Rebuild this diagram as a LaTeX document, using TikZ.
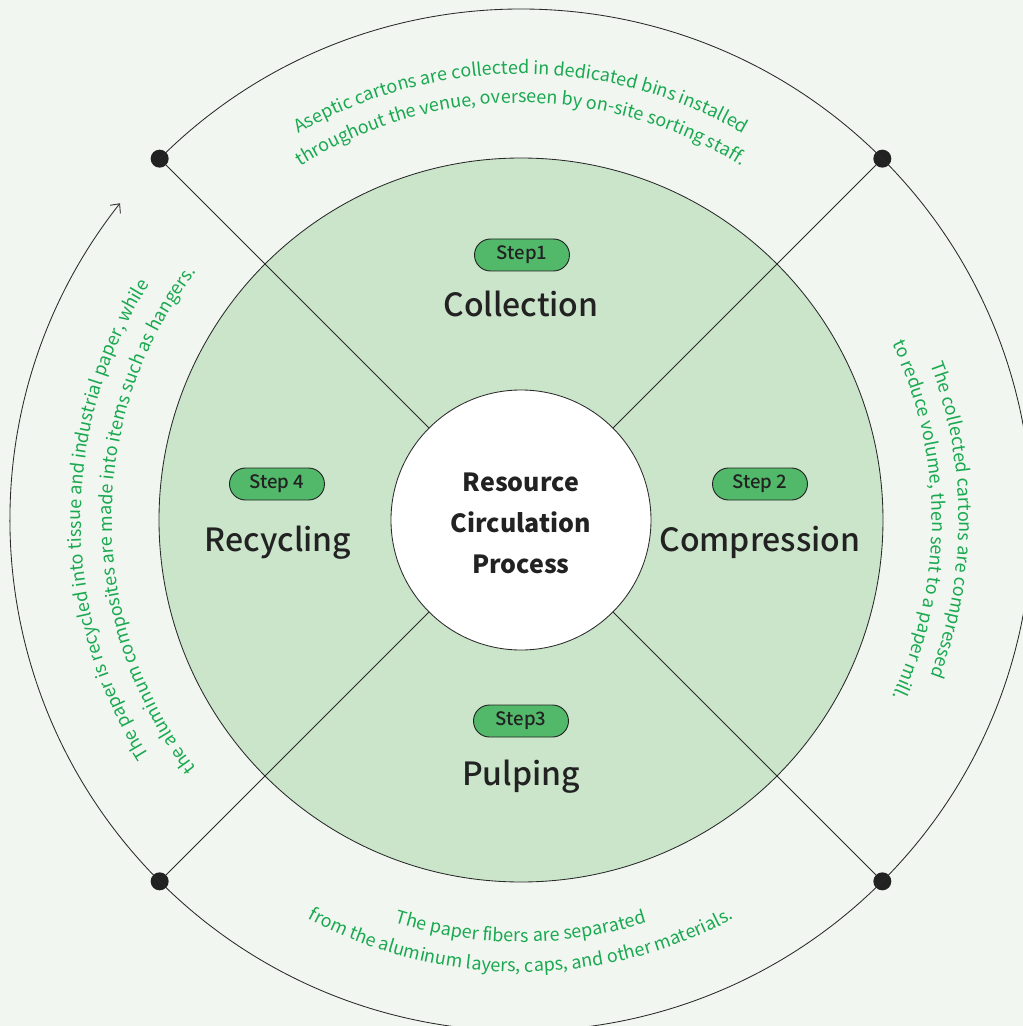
\documentclass[tikz,border=0pt]{standalone}
\usepackage{fontspec}
\setmainfont{Noto Sans CJK SC}
\newfontfamily\medfont{Noto Sans CJK SC Medium}
\usetikzlibrary{decorations.text,arrows.meta}
\definecolor{bg}{HTML}{F1F7F0}
\definecolor{disc}{HTML}{CBE5CB}
\definecolor{pill}{HTML}{52B86A}
\definecolor{gtext}{HTML}{1AA850}
\definecolor{ink}{HTML}{222222}
\definecolor{linec}{HTML}{2A2A2A}
\begin{document}
\begin{tikzpicture}[x=1pt,y=1pt,
  thinline/.style={draw=linec, line width=0.85pt},
  dotnode/.style={circle, fill=ink, inner sep=0pt, minimum size=18pt},
  pillnode/.style={draw=ink, line width=0.9pt, fill=pill, rounded corners=16pt,
    minimum width=95pt, minimum height=32pt, inner sep=0pt,
    font=\medfont\fontsize{18.5}{18.5}\selectfont, text=ink},
  stagelabel/.style={font=\medfont\fontsize{32}{32}\selectfont, text=ink, anchor=base, inner sep=0pt},
  coretext/.style={font=\bfseries\fontsize{25}{25}\selectfont, text=ink, anchor=base, inner sep=0pt},
  curvetext/.style={decorate, decoration={text along path, text align=center, text color=gtext}},
]
\useasboundingbox (-521,-506) rectangle (502,520);
\fill[bg] (-521,-506) rectangle (502,520);

% green disc and core
\node[circle, fill=disc, draw=linec, line width=0.85pt, minimum size=724pt, inner sep=0pt] (disc) at (0,0) {};
\node[circle, fill=white, draw=linec, line width=0.85pt, minimum size=260pt, inner sep=0pt] (core) at (0,0) {};

% dots
\node[dotnode] (d1) at (135:511) {};
\node[dotnode] (d2) at (45:511) {};
\node[dotnode] (d3) at (-45:511) {};
\node[dotnode] (d4) at (-135:511) {};

% diagonals
\draw[thinline] (d1) -- (core);
\draw[thinline] (d2) -- (core);
\draw[thinline] (d3) -- (core);
\draw[thinline] (d4) -- (core);

% outer arcs
\draw[thinline] (d1.center) arc[start angle=135, end angle=-135, radius=511];
\draw[thinline, -{Straight Barb[length=7pt, width=13pt]}] (d4.center)
  arc[start angle=225, end angle=141.7, radius=511] coordinate (arrowend);

% core text
\node[coretext] (t1) at (0,29) {Resource};
\node[coretext] (t2) at (0,-12) {Circulation};
\node[coretext] (t3) at (0,-53) {Process};

% steps
\node[pillnode] (s1) at (1,265) {Step1};
\node[stagelabel] (l1) at (0,203) {Collection};
\node[pillnode] (s2) at (239,36) {Step 2};
\node[stagelabel] (l2) at (239,-31) {Compression};
\node[pillnode] (s3) at (0,-201) {Step3};
\node[stagelabel] (l3) at (0,-265) {Pulping};
\node[pillnode] (s4) at (-244,36) {Step 4};
\node[stagelabel] (l4) at (-243,-31) {Recycling};

% curved texts
\path[curvetext, decoration={text={|\fontsize{18}{18}\selectfont|Aseptic cartons are collected in dedicated bins installed}}]
  (140:446) arc[start angle=140, end angle=40, radius=446];
\path[curvetext, decoration={text={|\fontsize{18}{18}\selectfont|throughout the venue, overseen by on-site sorting staff.}}]
  (140:417) arc[start angle=140, end angle=40, radius=417];

\path[curvetext, decoration={text={|\fontsize{18}{18}\selectfont|The collected cartons are compressed}}]
  (50:438) arc[start angle=50, end angle=-50, radius=438];
\path[curvetext, decoration={text={|\fontsize{18}{18}\selectfont|to reduce volume, then sent to a paper mill.}}]
  (50:411) arc[start angle=50, end angle=-50, radius=411];

\path[curvetext, decoration={text={|\fontsize{18}{18}\selectfont|The paper fibers are separated}}]
  (220:422) arc[start angle=220, end angle=320, radius=422];
\path[curvetext, decoration={text={|\fontsize{18}{18}\selectfont|from the aluminum layers, caps, and other materials.}}]
  (220:452) arc[start angle=220, end angle=320, radius=452];

\path[curvetext, decoration={text={|\fontsize{18}{18}\selectfont|The paper is recycled into tissue and industrial paper, while}}]
  (230:440) arc[start angle=230, end angle=130, radius=440];
\path[curvetext, decoration={text={|\fontsize{18}{18}\selectfont|the aluminum composites are made into items such as hangers.}}]
  (230:409) arc[start angle=230, end angle=130, radius=409];
\end{tikzpicture}
\end{document}
